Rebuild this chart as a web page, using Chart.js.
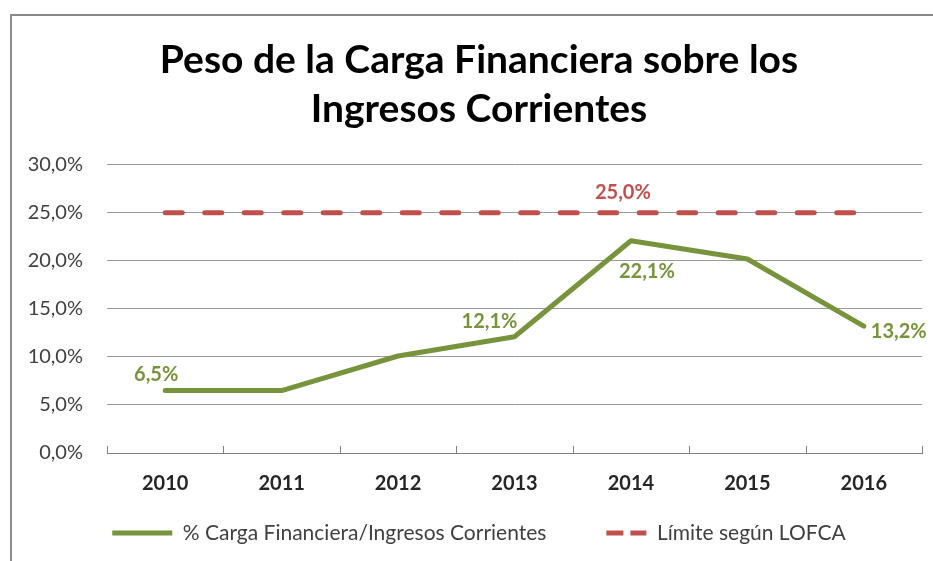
<!DOCTYPE html>
<html>
<head>
<meta charset="utf-8">
<script src="https://cdn.jsdelivr.net/npm/chart.js@4"></script>
<style>
  body { margin: 0; background: #fff; }
  #wrap { position: relative; width: 933px; height: 561px; }
</style>
</head>
<body>
<div id="wrap"><canvas id="carga"></canvas></div>
<script>
const years = ['2010', '2011', '2012', '2013', '2014', '2015', '2016'];
const cargaFinanciera = [6.5, 6.5, 10.1, 12.1, 22.1, 20.2, 13.2];
const limiteLofca = [25, 25, 25, 25, 25, 25, 25];
const yTicks = [0, 5, 10, 15, 20, 25, 30];

// which points carry a value label, and where the label sits relative to the point
const greenLabels = [{ i: 0, dx: -9, dy: -16 }, { i: 3, dx: -25, dy: -15 }, { i: 4, dx: 16, dy: 31 }, { i: 6, dx: 35, dy: 5 }];
const redLabels = [{ i: 4, dx: -8, dy: -20 }];

const green = '#77933C';
const red = '#C0504D';

function pct(v) {
    return v.toFixed(1).replace('.', ',') + '%';
}

// let tick labels spill out of the (deliberately narrow) axis boxes
function noLabelClip(scale) {
    scale._computeLabelArea = () => null;
}

// gray frame round the chart (only top and left edges are in the picture)
const framePlugin = {
    id: 'frame',
    beforeDraw(chart) {
        const ctx = chart.ctx;
        ctx.save();
        ctx.fillStyle = '#fff';
        ctx.fillRect(0, 0, chart.width, chart.height);
        ctx.strokeStyle = '#8a8a8a';
        ctx.lineWidth = 2;
        ctx.beginPath();
        ctx.moveTo(11, chart.height);
        ctx.lineTo(11, 15);
        ctx.lineTo(chart.width, 15);
        ctx.stroke();
        ctx.restore();
    }
};

// small tick marks standing up from the category axis, between categories
const axisTicksPlugin = {
    id: 'axisTicks',
    afterDatasetsDraw(chart) {
        const ctx = chart.ctx;
        const xs = chart.scales.x;
        const bottom = chart.chartArea.bottom;
        ctx.save();
        ctx.strokeStyle = '#808080';
        ctx.lineWidth = 1;
        for (let i = 0; i <= years.length; i++) {
            const x = Math.round(xs.getPixelForValue(i - 0.5)) + 0.5;
            ctx.beginPath();
            ctx.moveTo(x, bottom - 7);
            ctx.lineTo(x, bottom);
            ctx.stroke();
        }
        ctx.restore();
    }
};

const valueLabelsPlugin = {
    id: 'valueLabels',
    afterDatasetsDraw(chart) {
        const ctx = chart.ctx;
        const xs = chart.scales.x;
        const ys = chart.scales.y;
        ctx.save();
        ctx.font = 'bold 20px Lato';
        ctx.textAlign = 'center';
        ctx.textBaseline = 'middle';
        ctx.fillStyle = green;
        greenLabels.forEach(l => {
            const v = cargaFinanciera[l.i];
            ctx.fillText(pct(v), xs.getPixelForValue(l.i) + l.dx, ys.getPixelForValue(v) + l.dy);
        });
        ctx.fillStyle = red;
        redLabels.forEach(l => {
            const v = limiteLofca[l.i];
            ctx.fillText(pct(v), xs.getPixelForValue(l.i) + l.dx, ys.getPixelForValue(v) + l.dy);
        });
        ctx.restore();
    }
};

Chart.defaults.font.family = 'Lato';

const ctx = document.getElementById('carga').getContext('2d');
new Chart(ctx, {
    type: 'line',
    data: {
        labels: years,
        datasets: [{
            label: '% Carga Financiera/Ingresos Corrientes',
            data: cargaFinanciera,
            borderColor: green,
            backgroundColor: green,
            borderWidth: 5,
            borderJoinStyle: 'round',
            borderCapStyle: 'round',
            pointRadius: 0,
            tension: 0,
            pointStyle: 'line'
        }, {
            label: 'Límite según LOFCA',
            data: limiteLofca,
            borderColor: red,
            backgroundColor: red,
            borderWidth: 5,
            borderDash: [17, 22.5],
            borderCapStyle: 'round',
            pointRadius: 0,
            tension: 0,
            pointStyle: 'line'
        }]
    },
    options: {
        responsive: true,
        maintainAspectRatio: false,
        animation: false,
        layout: {
            padding: { left: 36, right: 11, top: 0, bottom: 7.5 }
        },
        scales: {
            x: {
                offset: true,
                grid: { display: false },
                border: { display: true, color: '#808080', width: 1 },
                afterFit(scale) {
                    scale.height = 29.5;
                    noLabelClip(scale);
                },
                ticks: {
                    padding: 11,
                    color: '#262626',
                    font: { size: 20, weight: 'bold' }
                }
            },
            y: {
                min: 0,
                max: 30,
                afterBuildTicks(scale) {
                    scale.ticks = yTicks.map(v => ({ value: v }));
                },
                afterFit(scale) {
                    scale.width = 71;
                    noLabelClip(scale);
                },
                border: { display: false },
                grid: { color: '#9a9a9a', lineWidth: 1, drawTicks: false },
                ticks: {
                    padding: 24,
                    color: '#404040',
                    font: { size: 20 },
                    callback: v => pct(v)
                }
            }
        },
        plugins: {
            title: {
                display: true,
                text: ['Peso de la Carga Financiera sobre los', 'Ingresos Corrientes'],
                color: '#000',
                font: { size: 39, weight: 'bold', lineHeight: 1.28 },
                padding: { top: 35, bottom: 30 }
            },
            legend: {
                position: 'bottom',
                labels: {
                    color: '#404040',
                    font: { size: 21 },
                    usePointStyle: true,
                    pointStyleWidth: 60,
                    padding: 40,
                    generateLabels(chart) {
                        const items = Chart.defaults.plugins.legend.labels.generateLabels(chart);
                        // red sample is shorter in the original: two dashes on the right of the slot
                        items[1].lineDash = [0, 20, 17, 7, 16, 0];
                        items.forEach(it => { it.lineCap = 'butt'; });
                        return items;
                    }
                }
            },
            tooltip: { enabled: false }
        }
    },
    plugins: [framePlugin, axisTicksPlugin, valueLabelsPlugin]
});
</script>
</body>
</html>
